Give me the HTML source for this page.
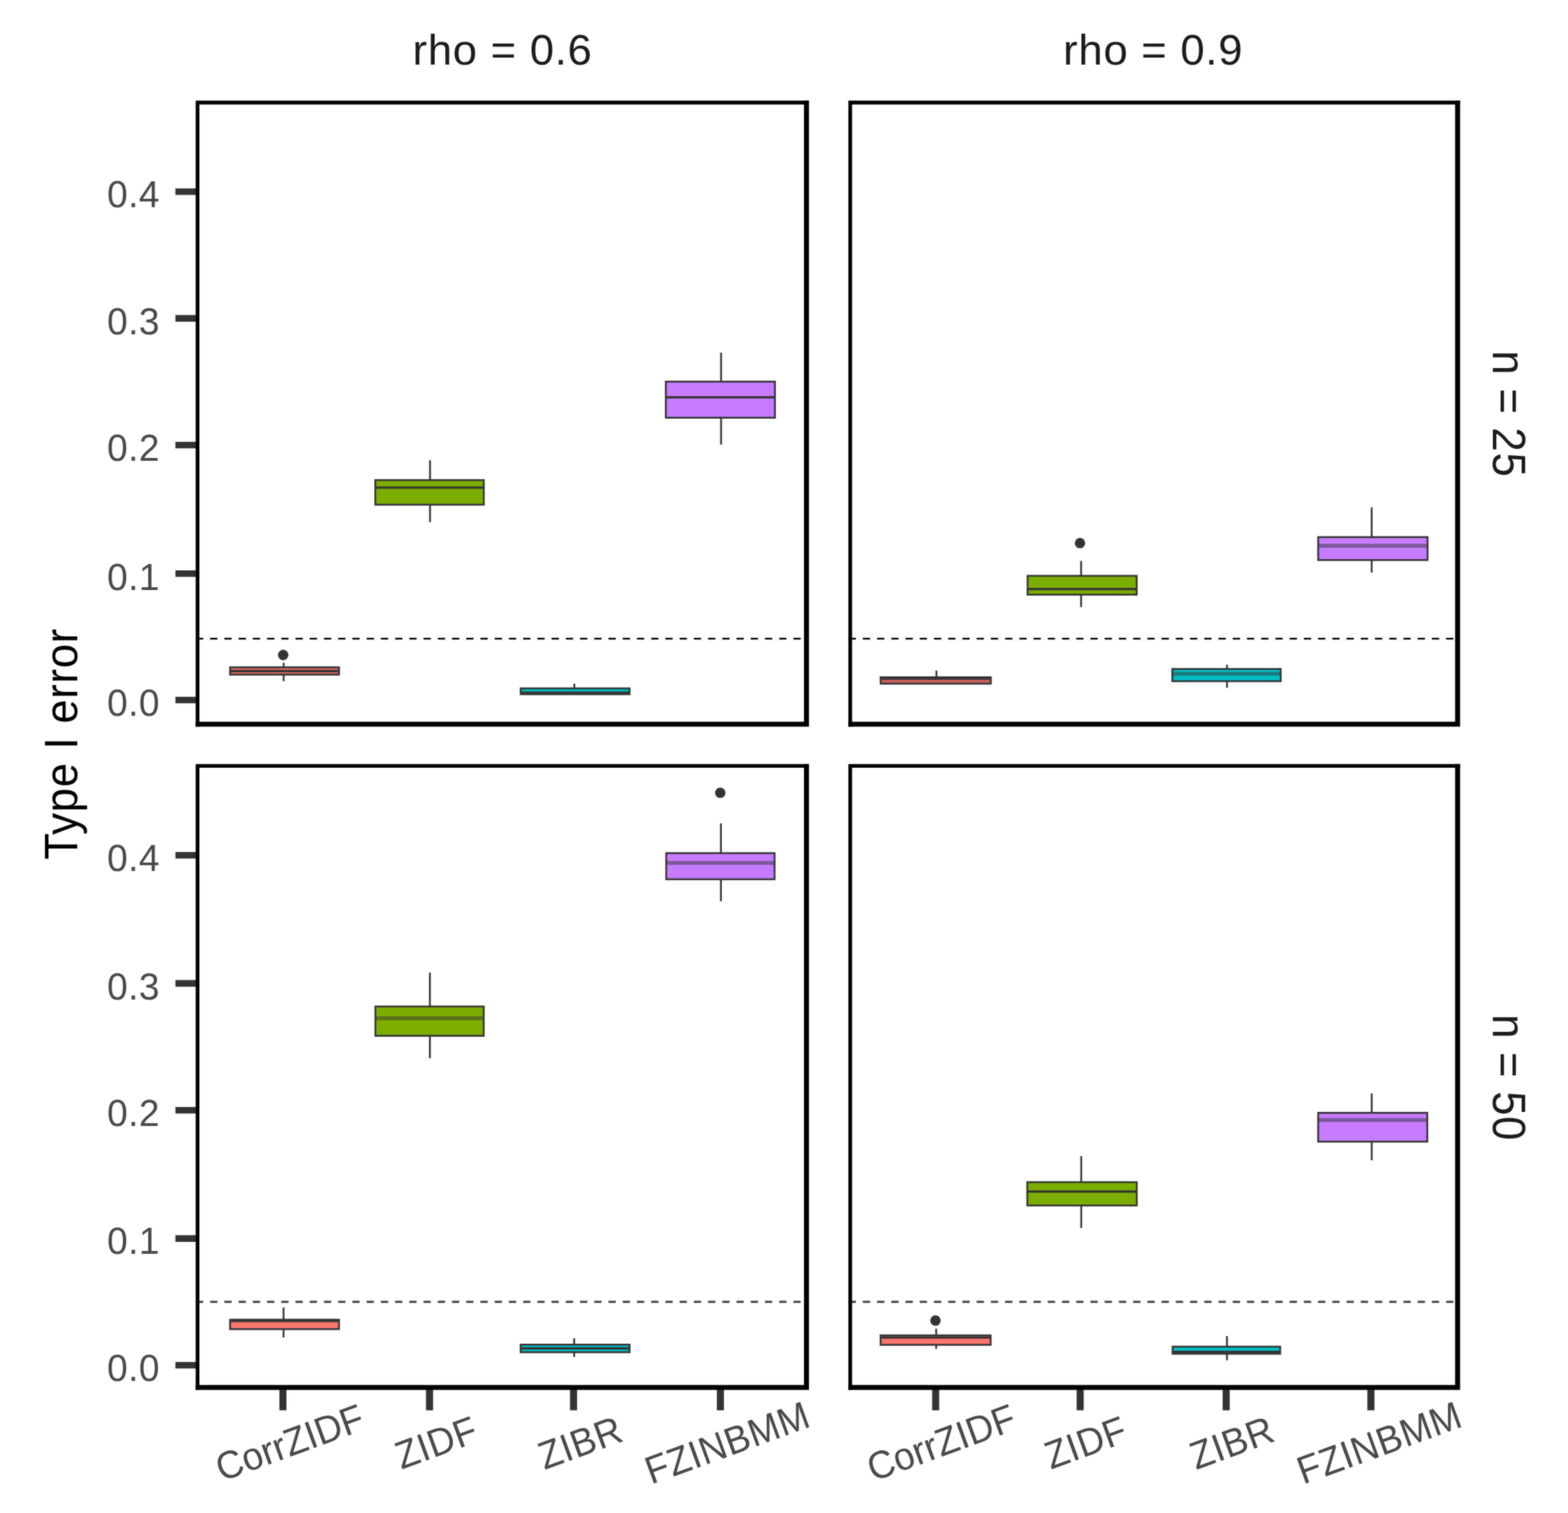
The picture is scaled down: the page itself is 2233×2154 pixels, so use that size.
<!DOCTYPE html>
<html lang="en">
<head>
<meta charset="utf-8">
<title>Type I error by method, rho and n</title>
<style>
html,body{margin:0;padding:0;background:#ffffff;}
body{width:2233px;height:2154px;}
svg{display:block;}
text{font-family:"Liberation Sans", sans-serif;letter-spacing:0.6px;}
.strip{font-size:62px;fill:#1a1a1a;letter-spacing:1.1px;}
.ytitle{font-size:62px;fill:#000000;letter-spacing:1.1px;}
.ax{font-size:52.8px;fill:#484848;}
.btl{fill:none;stroke:#000000;stroke-width:5.3;stroke-linecap:butt;stroke-linejoin:miter;}
.bbr{fill:none;stroke:#000000;stroke-width:7.1;stroke-linecap:butt;stroke-linejoin:miter;}
.tick{stroke:#333333;stroke-width:9.4;fill:none;}
.tickx{stroke:#333333;stroke-width:10.1;fill:none;}
.wh{stroke:#333333;stroke-width:2.6;fill:none;}
.med{stroke:#333333;stroke-width:3.25;fill:none;}
.meds{stroke:#333333;stroke-width:5.46;stroke-opacity:0.5;fill:none;}
.box{stroke:#333333;stroke-width:2.6;}
.dash2{stroke:#000000;stroke-opacity:0.7;stroke-width:3.2;stroke-dasharray:10.4 9.86;fill:none;}
.pt{fill:#333333;}
.dash{stroke:#000000;stroke-width:2.6;stroke-dasharray:10.4 9.86;fill:none;}
</style>
</head>
<body>
<svg width="2233" height="2154" viewBox="0 0 2233 2154">
<defs>
<filter id="soft" x="0" y="0" width="2233" height="2154" filterUnits="userSpaceOnUse" color-interpolation-filters="sRGB">
<feGaussianBlur in="SourceGraphic" stdDeviation="1" result="b"/>
<feComposite in="SourceGraphic" in2="b" operator="arithmetic" k1="0" k2="0.5" k3="0.5" k4="0"/>
</filter>
</defs>
<g filter="url(#soft)">
<rect x="0" y="0" width="2233" height="2154" fill="#ffffff"/>
<text class="strip" x="715.7" y="91.8" text-anchor="middle">rho = 0.6</text>
<text class="strip" x="1642.3" y="91.8" text-anchor="middle">rho = 0.9</text>
<text class="strip" text-anchor="middle" transform="translate(2126.3 589.4) rotate(90) scale(1 1.07)">n = 25</text>
<text class="strip" text-anchor="middle" transform="translate(2126.3 1534.25) rotate(90) scale(1 1.07)">n = 50</text>
<text class="ytitle" text-anchor="middle" transform="translate(110.4 1059) rotate(-90) scale(1 1.07)">Type I error</text>
<g>
<line class="dash" x1="279" y1="909.2" x2="1148.5" y2="909.2"/>
<line class="wh" x1="404" y1="943.4" x2="404" y2="950"/>
<line class="wh" x1="404" y1="960.4" x2="404" y2="969.8"/>
<rect class="box" x="327.7" y="950" width="155.1" height="10.4" fill="#E06D64"/>
<line class="med" x1="327.7" y1="955.4" x2="482.8" y2="955.4"/>
<circle class="pt" cx="403.3" cy="932.5" r="7.4"/>
<line class="wh" x1="612.4" y1="655.3" x2="612.4" y2="683.5"/>
<line class="wh" x1="612.4" y1="718.5" x2="612.4" y2="743.4"/>
<rect class="box" x="534.4" y="683.5" width="154.6" height="35" fill="#7CAE00"/>
<line class="med" x1="534.4" y1="694" x2="689" y2="694"/>
<line class="wh" x1="817.9" y1="973.3" x2="817.9" y2="980"/>
<rect class="box" x="741.5" y="980" width="155.1" height="8.3" fill="#00BFC4"/>
<line class="med" x1="741.5" y1="986.2" x2="896.6" y2="986.2"/>
<line class="wh" x1="1026.9" y1="502" x2="1026.9" y2="543.3"/>
<line class="wh" x1="1026.9" y1="594.7" x2="1026.9" y2="633"/>
<rect class="box" x="948.2" y="543.3" width="155.4" height="51.4" fill="#C77CFF"/>
<line class="med" x1="948.2" y1="565.7" x2="1103.6" y2="565.7"/>
<line class="tick" x1="249.8" y1="272.9" x2="281.3" y2="272.9"/>
<text class="ax" x="227.7" y="294.5" text-anchor="end">0.4</text>
<line class="tick" x1="249.8" y1="453.3" x2="281.3" y2="453.3"/>
<text class="ax" x="227.7" y="476.1" text-anchor="end">0.3</text>
<line class="tick" x1="249.8" y1="633.6" x2="281.3" y2="633.6"/>
<text class="ax" x="227.7" y="656.3" text-anchor="end">0.2</text>
<line class="tick" x1="249.8" y1="816.6" x2="281.3" y2="816.6"/>
<text class="ax" x="227.7" y="839.7" text-anchor="end">0.1</text>
<line class="tick" x1="249.8" y1="996.6" x2="281.3" y2="996.6"/>
<text class="ax" x="227.7" y="1019" text-anchor="end">0.0</text>
<path class="btl" d="M281.3 1034.55L281.3 146L1152.05 146"/>
<path class="bbr" d="M278.65 1031L1148.5 1031L1148.5 143.35"/>
</g>
<g>
<line class="dash" x1="1208.5" y1="909.2" x2="2075.8" y2="909.2"/>
<line class="wh" x1="1333.6" y1="954.6" x2="1333.6" y2="964.2"/>
<rect class="box" x="1254.1" y="964.2" width="157" height="9.1" fill="#C9605A"/>
<line class="med" x1="1254.1" y1="966" x2="1411.1" y2="966"/>
<line class="wh" x1="1539.6" y1="798.6" x2="1539.6" y2="819.8"/>
<line class="wh" x1="1539.6" y1="846.6" x2="1539.6" y2="864.3"/>
<rect class="box" x="1463.4" y="819.8" width="155.4" height="26.8" fill="#7CAE00"/>
<line class="med" x1="1463.4" y1="838.5" x2="1618.8" y2="838.5"/>
<circle class="pt" cx="1538" cy="773.2" r="7.4"/>
<line class="wh" x1="1747.4" y1="946.4" x2="1747.4" y2="952.4"/>
<line class="wh" x1="1747.4" y1="969.8" x2="1747.4" y2="979.3"/>
<rect class="box" x="1669.5" y="952.4" width="154.4" height="17.4" fill="#00BFC4"/>
<line class="meds" x1="1669.5" y1="959.3" x2="1823.9" y2="959.3"/>
<line class="wh" x1="1953.4" y1="722.3" x2="1953.4" y2="764.7"/>
<line class="wh" x1="1953.4" y1="797.3" x2="1953.4" y2="815"/>
<rect class="box" x="1877.2" y="764.7" width="155.8" height="32.6" fill="#C77CFF"/>
<line class="meds" x1="1877.2" y1="777" x2="2033" y2="777"/>
<path class="btl" d="M1210.8 1034.55L1210.8 146L2079.35 146"/>
<path class="bbr" d="M1208.15 1031L2075.8 1031L2075.8 143.35"/>
</g>
<g>
<line class="dash2" x1="279" y1="1853.4" x2="1148.5" y2="1853.4"/>
<line class="wh" x1="403.8" y1="1861.5" x2="403.8" y2="1878.8"/>
<line class="wh" x1="403.8" y1="1892.2" x2="403.8" y2="1904.2"/>
<rect class="box" x="327.7" y="1878.8" width="155.1" height="13.4" fill="#F8766D"/>
<line class="med" x1="327.7" y1="1880.6" x2="482.8" y2="1880.6"/>
<line class="wh" x1="612.2" y1="1384.6" x2="612.2" y2="1432.9"/>
<line class="wh" x1="612.2" y1="1474.7" x2="612.2" y2="1506.5"/>
<rect class="box" x="534.6" y="1432.9" width="154.3" height="41.8" fill="#7CAE00"/>
<line class="meds" x1="534.6" y1="1449.4" x2="688.9" y2="1449.4"/>
<line class="wh" x1="817.7" y1="1905.1" x2="817.7" y2="1914.3"/>
<line class="wh" x1="817.7" y1="1925.1" x2="817.7" y2="1931.8"/>
<rect class="box" x="741.5" y="1914.3" width="155.1" height="10.8" fill="#00BFC4"/>
<line class="med" x1="741.5" y1="1919.5" x2="896.6" y2="1919.5"/>
<line class="wh" x1="1026.7" y1="1172.2" x2="1026.7" y2="1214.6"/>
<line class="wh" x1="1026.7" y1="1251.8" x2="1026.7" y2="1283.1"/>
<rect class="box" x="948.8" y="1214.6" width="154.3" height="37.2" fill="#C77CFF"/>
<line class="meds" x1="948.8" y1="1228.5" x2="1103.1" y2="1228.5"/>
<circle class="pt" cx="1025.7" cy="1128.7" r="7.4"/>
<line class="tick" x1="249.8" y1="1217.6" x2="281.3" y2="1217.6"/>
<text class="ax" x="227.7" y="1240.3" text-anchor="end">0.4</text>
<line class="tick" x1="249.8" y1="1400" x2="281.3" y2="1400"/>
<text class="ax" x="227.7" y="1422.5" text-anchor="end">0.3</text>
<line class="tick" x1="249.8" y1="1580.6" x2="281.3" y2="1580.6"/>
<text class="ax" x="227.7" y="1603.3" text-anchor="end">0.2</text>
<line class="tick" x1="249.8" y1="1763.2" x2="281.3" y2="1763.2"/>
<text class="ax" x="227.7" y="1785.4" text-anchor="end">0.1</text>
<line class="tick" x1="249.8" y1="1943.6" x2="281.3" y2="1943.6"/>
<text class="ax" x="227.7" y="1966.1" text-anchor="end">0.0</text>
<line class="tickx" x1="402.9" y1="1975.3" x2="402.9" y2="2007.8"/>
<text class="ax" text-anchor="middle" dominant-baseline="central" style="letter-spacing:0" transform="translate(412.4 2053.5) rotate(-20) scale(1 1.05)">CorrZIDF</text>
<line class="tickx" x1="611.7" y1="1975.3" x2="611.7" y2="2007.8"/>
<text class="ax" text-anchor="middle" dominant-baseline="central" transform="translate(621.2 2053.5) rotate(-20) scale(1 1.05)">ZIDF</text>
<line class="tickx" x1="816.8" y1="1975.3" x2="816.8" y2="2007.8"/>
<text class="ax" text-anchor="middle" dominant-baseline="central" transform="translate(826.3 2053.5) rotate(-20) scale(1 1.05)">ZIBR</text>
<line class="tickx" x1="1025.9" y1="1975.3" x2="1025.9" y2="2007.8"/>
<text class="ax" text-anchor="middle" dominant-baseline="central" transform="translate(1035.6 2053.5) rotate(-20) scale(1 1.05)">FZINBMM</text>
<path class="btl" d="M281.3 1978.85L281.3 1090.4L1152.05 1090.4"/>
<path class="bbr" d="M278.65 1975.3L1148.5 1975.3L1148.5 1087.75"/>
</g>
<g>
<line class="dash2" x1="1208.5" y1="1853.4" x2="2075.8" y2="1853.4"/>
<line class="wh" x1="1333.2" y1="1891.5" x2="1333.2" y2="1901.1"/>
<line class="wh" x1="1333.2" y1="1914.6" x2="1333.2" y2="1920.5"/>
<rect class="box" x="1254.1" y="1901.1" width="156.7" height="13.5" fill="#F8766D"/>
<line class="med" x1="1254.1" y1="1904.2" x2="1410.8" y2="1904.2"/>
<circle class="pt" cx="1332.2" cy="1880" r="7.4"/>
<line class="wh" x1="1539.8" y1="1645.9" x2="1539.8" y2="1683"/>
<line class="wh" x1="1539.8" y1="1716.2" x2="1539.8" y2="1748.3"/>
<rect class="box" x="1463" y="1683" width="155.9" height="33.2" fill="#7CAE00"/>
<line class="med" x1="1463" y1="1696.4" x2="1618.9" y2="1696.4"/>
<line class="wh" x1="1747.3" y1="1902.1" x2="1747.3" y2="1917.2"/>
<line class="wh" x1="1747.3" y1="1927.3" x2="1747.3" y2="1936.5"/>
<rect class="box" x="1669.9" y="1917.2" width="153.2" height="10.1" fill="#00BFC4"/>
<line class="med" x1="1669.9" y1="1924.6" x2="1823.1" y2="1924.6"/>
<line class="wh" x1="1953.5" y1="1556.7" x2="1953.5" y2="1584.3"/>
<line class="wh" x1="1953.5" y1="1625.3" x2="1953.5" y2="1651.8"/>
<rect class="box" x="1877.2" y="1584.3" width="155.4" height="41" fill="#C77CFF"/>
<line class="meds" x1="1877.2" y1="1594.4" x2="2032.6" y2="1594.4"/>
<line class="tickx" x1="1332.5" y1="1975.3" x2="1332.5" y2="2007.8"/>
<text class="ax" text-anchor="middle" dominant-baseline="central" style="letter-spacing:0" transform="translate(1340.2 2053.5) rotate(-20) scale(1 1.05)">CorrZIDF</text>
<line class="tickx" x1="1538.3" y1="1975.3" x2="1538.3" y2="2007.8"/>
<text class="ax" text-anchor="middle" dominant-baseline="central" transform="translate(1546 2053.5) rotate(-20) scale(1 1.05)">ZIDF</text>
<line class="tickx" x1="1746.2" y1="1975.3" x2="1746.2" y2="2007.8"/>
<text class="ax" text-anchor="middle" dominant-baseline="central" transform="translate(1754.3 2053.5) rotate(-20) scale(1 1.05)">ZIBR</text>
<line class="tickx" x1="1952.3" y1="1975.3" x2="1952.3" y2="2007.8"/>
<text class="ax" text-anchor="middle" dominant-baseline="central" transform="translate(1964.1 2053.5) rotate(-20) scale(1 1.05)">FZINBMM</text>
<path class="btl" d="M1210.8 1978.85L1210.8 1090.4L2079.35 1090.4"/>
<path class="bbr" d="M1208.15 1975.3L2075.8 1975.3L2075.8 1087.75"/>
</g>
</g>
</svg>
</body>
</html>
